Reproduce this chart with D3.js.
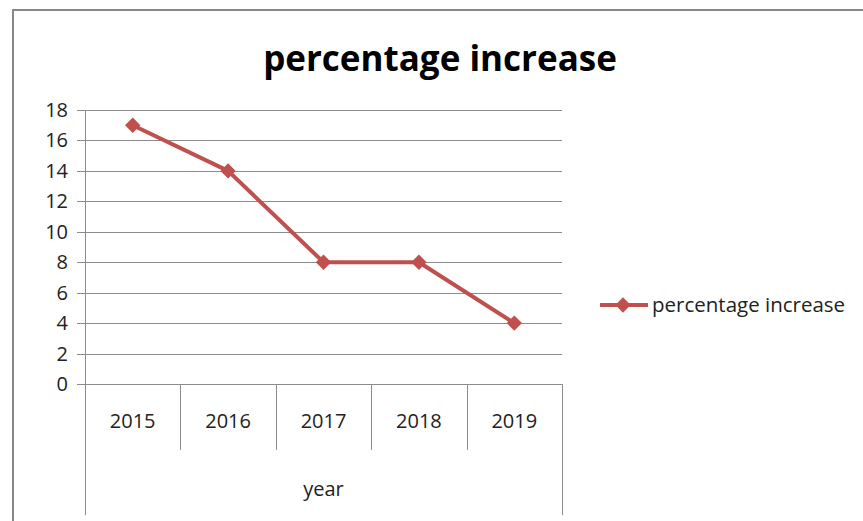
<!DOCTYPE html>
<html>
<head>
<meta charset="utf-8">
<script src="https://cdn.jsdelivr.net/npm/d3@7"></script>
<style>
  html, body { margin: 0; padding: 0; background: #fff; }
  svg { display: block; font-family: "Open Sans", sans-serif; }
</style>
</head>
<body>
<script>
// データ
const years = ["2015", "2016", "2017", "2018", "2019"];
const values = [17, 14, 8, 8, 4];
const yTicks = [0, 2, 4, 6, 8, 10, 12, 14, 16, 18];
const seriesName = "percentage increase";
const axisTitle = "year";

const width = 863, height = 521;
const plot = { left: 85, right: 562, top: 110, bottom: 384 };
const lineColor = "#c0504d";
const gridColor = "#8c8c8c";
const textColor = "#222";

const svg = d3.select("body").append("svg")
  .attr("width", width)
  .attr("height", height);

// 外枠
svg.append("rect")
  .attr("x", 13).attr("y", 10)
  .attr("width", width + 20).attr("height", height + 20)
  .attr("fill", "#fff")
  .attr("stroke", "#888").attr("stroke-width", 2);

// タイトル
svg.append("text")
  .attr("x", 440).attr("y", 71)
  .attr("text-anchor", "middle")
  .attr("font-size", "35px")
  .attr("font-weight", "bold")
  .attr("fill", "#000")
  .text(seriesName);

// スケール
const x = d3.scaleBand().domain(years).range([plot.left, plot.right]);
const y = d3.scaleLinear().domain([0, 18]).range([plot.bottom, plot.top]);

// グリッド線
svg.append("g")
  .selectAll("line")
  .data(yTicks)
  .join("line")
  .attr("x1", plot.left - 8).attr("x2", plot.right)
  .attr("y1", d => Math.round(y(d)) + 0.5).attr("y2", d => Math.round(y(d)) + 0.5)
  .attr("stroke", gridColor).attr("stroke-width", 1);

// Y軸ラベル
svg.append("g")
  .selectAll("text")
  .data(yTicks)
  .join("text")
  .attr("x", 68)
  .attr("y", d => y(d))
  .attr("dy", "0.35em")
  .attr("text-anchor", "end")
  .attr("font-size", "20px")
  .attr("fill", textColor)
  .text(d => d);

// Y軸線
svg.append("line")
  .attr("x1", plot.left + 0.5).attr("x2", plot.left + 0.5)
  .attr("y1", plot.top).attr("y2", plot.bottom)
  .attr("stroke", gridColor);

// カテゴリ区切り線
const bounds = years.map(d => x(d)).concat([plot.right]);
svg.append("g")
  .selectAll("line")
  .data(bounds)
  .join("line")
  .attr("x1", d => Math.round(d) + 0.5).attr("x2", d => Math.round(d) + 0.5)
  .attr("y1", plot.bottom)
  .attr("y2", (d, i) => (i === 0 || i === bounds.length - 1) ? 515 : 450)
  .attr("stroke", gridColor);

// 年ラベル
svg.append("g")
  .selectAll("text")
  .data(years)
  .join("text")
  .attr("x", d => x(d) + x.bandwidth() / 2)
  .attr("y", 428)
  .attr("text-anchor", "middle")
  .attr("font-size", "20px")
  .attr("fill", textColor)
  .text(d => d);

// 軸タイトル
svg.append("text")
  .attr("x", (plot.left + plot.right) / 2)
  .attr("y", 496)
  .attr("text-anchor", "middle")
  .attr("font-size", "20px")
  .attr("fill", textColor)
  .text(axisTitle);

// 折れ線
const line = d3.line()
  .x((d, i) => x(years[i]) + x.bandwidth() / 2)
  .y(d => y(d));

svg.append("path")
  .datum(values)
  .attr("d", line)
  .attr("fill", "none")
  .attr("stroke", lineColor)
  .attr("stroke-width", 4)
  .attr("stroke-linejoin", "round");

const diamond = d3.symbol().type(d3.symbolDiamond2).size(150);
svg.append("g")
  .selectAll("path")
  .data(values)
  .join("path")
  .attr("transform", (d, i) => `translate(${x(years[i]) + x.bandwidth() / 2},${y(d)})`)
  .attr("d", diamond)
  .attr("fill", lineColor);

// 凡例
const lg = svg.append("g").attr("transform", "translate(600,305)");
lg.append("line")
  .attr("x1", 0).attr("x2", 48)
  .attr("stroke", lineColor).attr("stroke-width", 4);
lg.append("path")
  .attr("transform", "translate(23,0)")
  .attr("d", diamond)
  .attr("fill", lineColor);
lg.append("text")
  .attr("x", 52).attr("dy", "0.35em")
  .attr("font-size", "20.5px")
  .attr("fill", textColor)
  .text(seriesName);
</script>
</body>
</html>
